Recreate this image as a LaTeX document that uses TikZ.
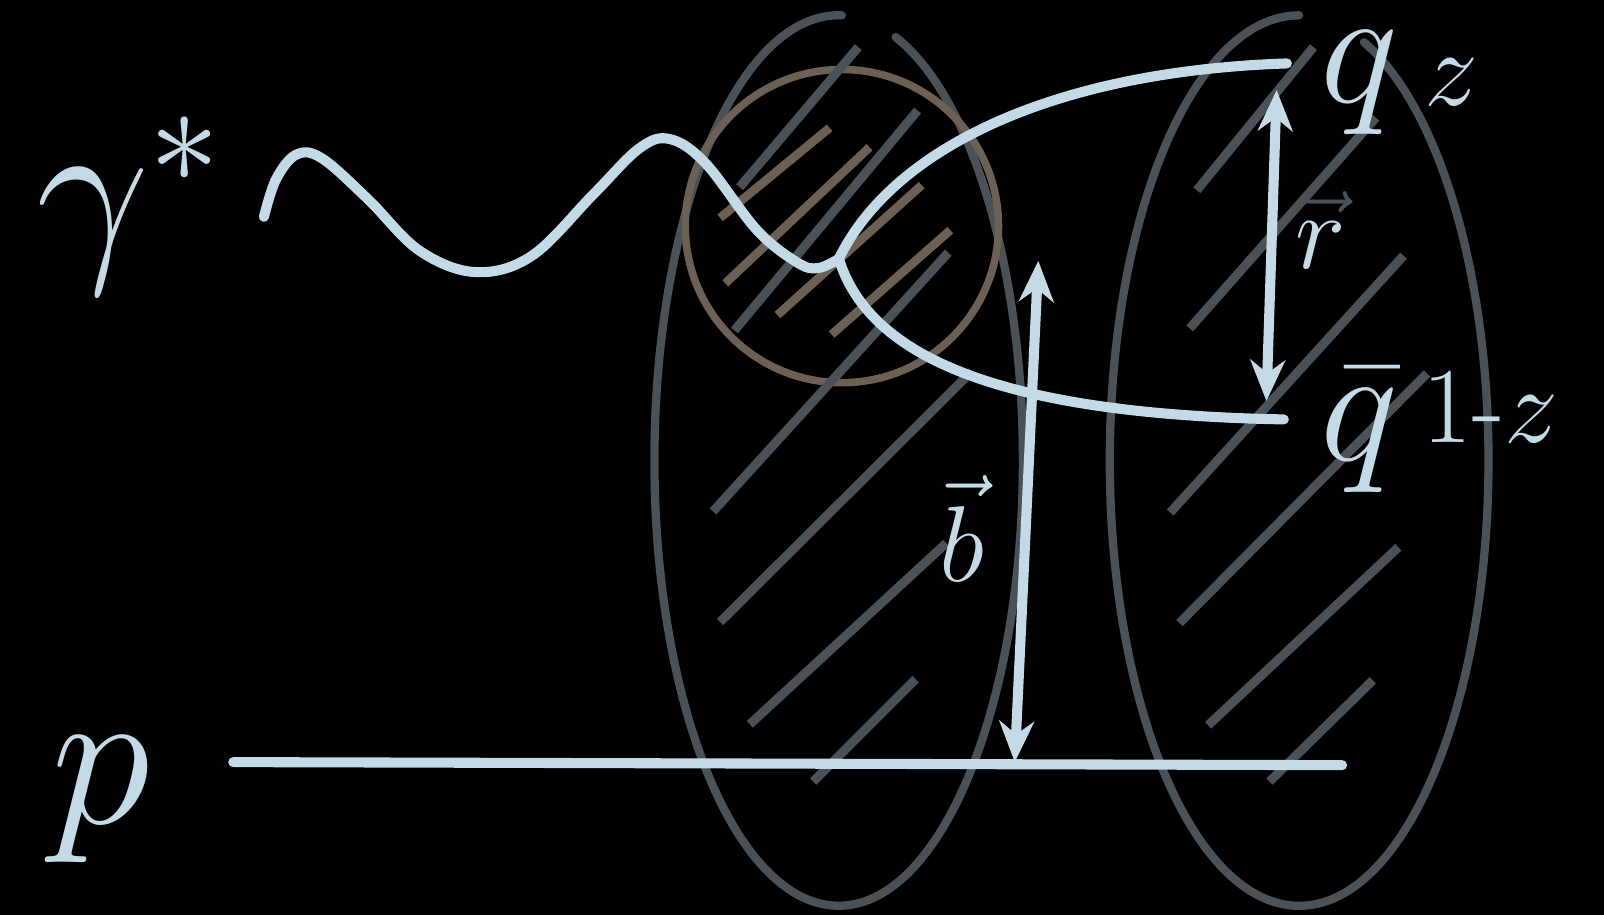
\RequirePackage{fix-cm}
\documentclass[tikz,border=0pt]{standalone}
\usepackage{amsmath}
\usetikzlibrary{arrows.meta}
\definecolor{board}{RGB}{0,0,0}
\definecolor{chalk}{RGB}{196,218,230}
\definecolor{slate}{RGB}{74,82,88}
\definecolor{umber}{RGB}{108,96,84}
\tikzset{
  chalkline/.style={draw=chalk,line width=2.8pt,line cap=round,line join=round},
  rim/.style={draw=slate,line width=2.3pt,line cap=round},
  hatchline/.style={draw=slate,line width=2.5pt},
  blob/.style={draw=umber,line width=2.1pt},
  blobline/.style={draw=umber,line width=2.4pt},
  dbl/.style={chalkline,{Stealth[length=4mm,width=3.4mm]}-{Stealth[length=4mm,width=3.4mm]}},
  lblbig/.style={text=chalk,inner sep=0pt,font=\fontsize{56}{60}\selectfont},
  lblmid/.style={text=chalk,inner sep=0pt,font=\fontsize{46}{52}\selectfont},
  lblsmall/.style={text=chalk,inner sep=0pt,font=\fontsize{30}{36}\selectfont},
}

\begin{document}
\begin{tikzpicture}[x=0.01cm,y=-0.01cm]
  \fill[board] (0,0) rectangle (1568,894);
  \useasboundingbox (0,0) rectangle (1568,894);
  \draw[rim] (823,15) arc[start angle=89,end angle=432,x radius=1.8cm,y radius=4.35cm];
  \draw[rim] (1270,15) arc[start angle=90,end angle=430,x radius=1.85cm,y radius=4.35cm];
  \draw[blob] (823,221) circle[radius=1.53cm];
  \foreach \xa/\ya/\xb/\yb in {704/213/811/125,709/277/850/144,760/308/901/181,813/327/929/225}
    \draw[blobline] (\xa,\ya) -- (\xb,\yb);
  \foreach \xa/\ya/\xb/\yb in {723/183/839/46,718/323/897/108,697/500/927/247,
      704/608/950/363,733/708/925/531,795/764/895/664,
      1170/186/1284/46,1163/321/1345/115,1144/501/1372/250,
      1153/609/1395/365,1181/709/1367/535,1241/764/1342/665}
    \draw[hatchline] (\xa,\ya) -- (\xb,\yb);

  \coordinate (vtx) at (820,253);
  \coordinate (qend) at (1258,62);
  \coordinate (qbend) at (1255,410);
  \coordinate (pL) at (228,745);
  \coordinate (pR) at (1312,748);
  \coordinate (btop) at (1015,255);
  \coordinate (bbot) at (992,745);
  \coordinate (rtop) at (1248,88);
  \coordinate (rbot) at (1238,392);

  \draw[chalkline] plot[smooth,tension=0.6] coordinates {(258,212) (270,175) (290,151) (315,155)
    (360,195) (410,245) (465,266) (520,250) (580,190) (625,145) (655,136) (690,160)
    (740,225) (780,257) (800,262) (vtx)};
  \draw[chalkline] (vtx) .. controls (870,150) and (1020,70) .. (qend);
  \draw[chalkline] (vtx) .. controls (850,350) and (980,405) .. (qbend);
  \draw[chalkline] (pL) -- (pR);
  \draw[dbl] (btop) -- (bbot);
  \draw[dbl] (rtop) -- (rbot);

  \node[lblbig,anchor=base west] (gam) at (35,250) {$\gamma^{*}$};
  \node[lblbig,anchor=base west] (pin) at (50,805) {$p$};
  \node[lblmid,anchor=base west] (q) at (1290,100) {$q$};
  \node[lblsmall,anchor=base west] (z) at (1392,103) {$z$};
  \node[lblmid,anchor=base west] (qb) at (1290,450) {$\bar{q}$};
  \node[lblsmall,anchor=base west] (omz) at (1390,433) {$1\text{-}z$};
  \node[lblsmall,anchor=base west] (r) at (1266,262) {\color{slate}$\vec{\textcolor{chalk}{r}}$};
  \node[lblsmall,anchor=base] (b) at (940,568) {$\vec{b}$};
\end{tikzpicture}
\end{document}
